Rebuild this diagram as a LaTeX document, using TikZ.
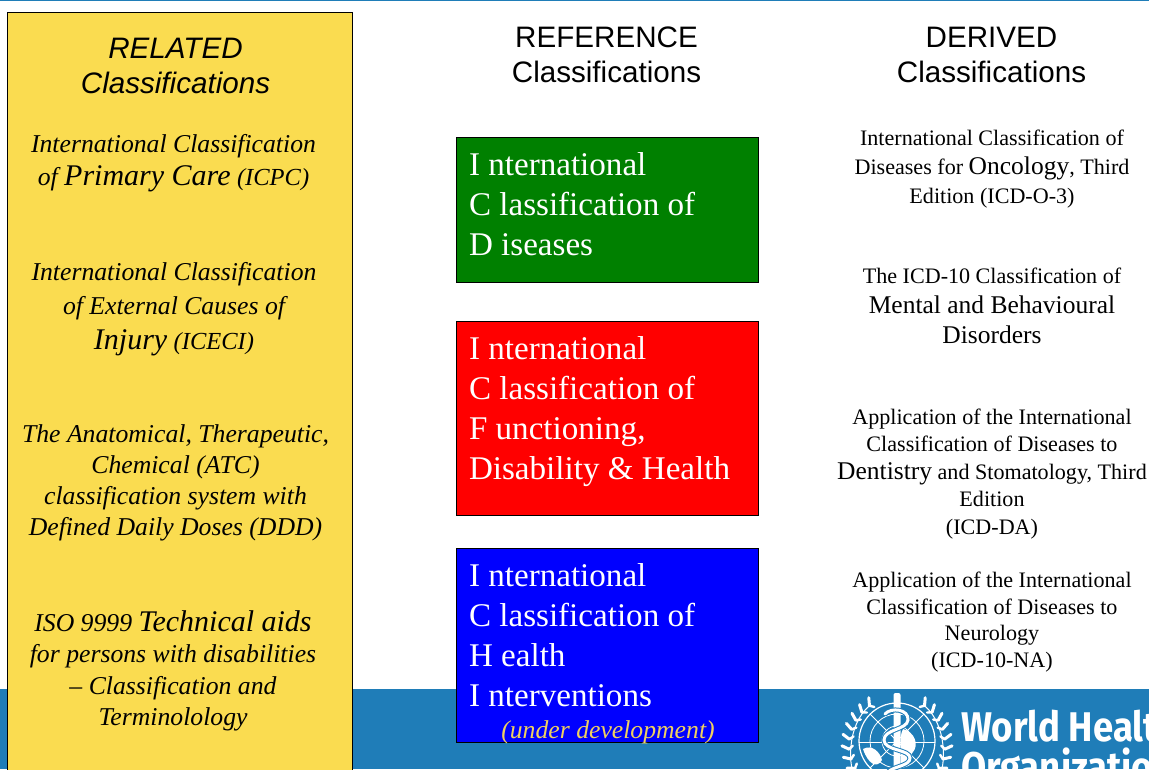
\documentclass[tikz,border=0pt]{standalone}
\usepackage{fontspec}
\setmainfont{Liberation Serif}
\setsansfont{Liberation Sans}
\newfontfamily\whofont[FakeStretch=0.88]{Fira Sans}
\definecolor{whoblue}{HTML}{1F7DB8}
\definecolor{relyellow}{HTML}{FADC50}
\definecolor{devyellow}{HTML}{F0D060}
\newcommand{\fs}[1]{\fontsize{#1}{#1}\selectfont}
\tikzset{
  x=1pt,y=-1pt,
  blk/.style={inner sep=0pt,outer sep=0pt,align=center,text=black},
  head/.style={blk,font=\sffamily\fontsize{29.6}{35}\selectfont},
  rel/.style={blk,font=\itshape\fontsize{25.7}{#1}\selectfont},
  der/.style={blk,font=\fontsize{22.1}{#1}\selectfont},
  refbox/.style={draw=black,line width=0.8pt,minimum width=302.5pt,anchor=north west,inner sep=0pt},
  reftext/.style={inner sep=0pt,outer sep=0pt,align=left,text=white,anchor=north west,font=\fontsize{33.1}{40}\selectfont},
  globe/.style={draw=white,line width=0.8pt,fill=none}
}
\begin{document}
\begin{tikzpicture}
\useasboundingbox (0,0) rectangle (1149,769);
\clip (0,0) rectangle (1149,769);
\fill[white] (0,0) rectangle (1149,769);
\fill[whoblue] (0,0) rectangle (1149,1.3);
\fill[whoblue] (0,689) rectangle (1149,769);
% logo
\foreach \s in {-1,1}{
  \draw[white,line width=1pt] ({897+\s*48*sin(35)},{745-48*cos(35)}) .. controls ({897+\s*50},{725}) and ({897+\s*50},{765}) .. ({897+\s*40},{785});
  \foreach \a in {35,47,...,125}{
    \draw[white,line width=3pt,line cap=round] ({897+\s*48*sin(\a)},{745-48*cos(\a)}) -- ++({\s*8*sin(\a-30)},{-8*cos(\a-30)});
    \draw[white,line width=2.4pt,line cap=round] ({897+\s*48*sin(\a)},{745-48*cos(\a)}) -- ++({-\s*5*sin(\a+40)},{5*cos(\a+40)});
  }
}
\draw[globe,line width=1.2pt] (897,741) circle (38);
\draw[globe] (897,741) circle (27);
\draw[globe] (897,741) circle (15);
\draw[globe] (859,742) -- (935,742);
\foreach \a in {45,135,225,315}{\draw[globe] (897,741) -- ++(\a:38);}
\fill[white] (863,749) .. controls (872,744) and (880,752) .. (882,760) .. controls (877,769) and (868,764) .. (863,749) -- cycle;
\fill[white] (903,729) .. controls (915,732) and (919,745) .. (913,752) .. controls (907,760) and (903,769) .. (900,769) .. controls (903,752) and (898,738) .. (903,729) -- cycle;
\fill[white,rounded corners=2pt] (893.5,693) rectangle (900.5,775);
\draw[whoblue,line width=5pt] (885,714) .. controls (891,707) and (909,709) .. (908,720) .. controls (907,730) and (884,729) .. (884,740) .. controls (884,751) and (910,749) .. (910,758) .. controls (910,766) and (894,766) .. (888,772);
\draw[white,line width=3pt,line cap=round] (885,714) .. controls (891,707) and (909,709) .. (908,720) .. controls (907,730) and (884,729) .. (884,740) .. controls (884,751) and (910,749) .. (910,758) .. controls (910,766) and (894,766) .. (888,772);
\node[inner sep=0pt,anchor=base west,text=white,font=\whofont\bfseries\fontsize{41.5}{40}\selectfont,align=left] (who) at (961,781) {World Health\\Organization};
% related panel
\draw[fill=relyellow,draw=black,line width=0.9pt] (7.7,12) rectangle (352,775);
\node[head,font=\sffamily\itshape\fontsize{29.6}{35}\selectfont] (relhead) at (175.5,66) {RELATED\\Classifications};
\node[rel=33] (r1) at (173.5,163) {International Classification\\of {\fs{30}Primary Care} {\fs{24.5}(ICPC)}};
\node[rel=34.5] (r2) at (174,309) {International Classification\\of External Causes of\\{\fs{30}Injury} {\fs{24.5}(ICECI)}};
\node[rel=31] (r3) at (175.5,483) {The Anatomical, Therapeutic,\\Chemical (ATC)\\classification system with\\Defined Daily Doses (DDD)};
\node[rel=31.5] (r4) at (173,671) {ISO 9999 {\fs{30}Technical aids}\\for persons with disabilities\\– Classification and\\Terminolology};
% headings
\node[head] (refhead) at (606.5,55) {REFERENCE\\Classifications};
\node[head] (derhead) at (991.5,55) {DERIVED\\Classifications};
% reference boxes
\node[refbox,fill={rgb,255:red,0;green,128;blue,0},minimum height=145pt] (icd) at (455.5,137) {};
\node[refbox,fill=red,minimum height=194pt] (icf) at (455.5,321) {};
\node[refbox,fill=blue,minimum height=194pt] (ichi) at (455.5,548) {};
\node[reftext] (icdt) at (469,153) {I nternational\\C lassification of\\D iseases};
\node[reftext] (icft) at (469,337) {I nternational\\C lassification of\\F unctioning,\\Disability \& Health};
\node[reftext] (ichit) at (469,564) {I nternational\\C lassification of\\H ealth\\I nterventions};
\node[inner sep=0pt,text=devyellow,font=\itshape\fontsize{25.7}{25.7}\selectfont] (dev) at (608,732) {(under development)};
% derived
\node[der=29] (d1) at (992,169) {International Classification of\\Diseases for {\fs{25.5}Oncology}, Third\\Edition (ICD-O-3)};
\node[der=30] (d2) at (992,305.5) {The ICD-10 Classification of\\{\fs{25.5}Mental and Behavioural}\\{\fs{25.5}Disorders}};
\node[der=27.5] (d3) at (992,474) {Application of the International\\Classification of Diseases to\\{\fs{25.5}Dentistry} and Stomatology, Third\\Edition\\(ICD-DA)};
\node[der=26.7] (d4) at (992,622) {Application of the International\\Classification of Diseases to\\Neurology\\(ICD-10-NA)};
\end{tikzpicture}
\end{document}
